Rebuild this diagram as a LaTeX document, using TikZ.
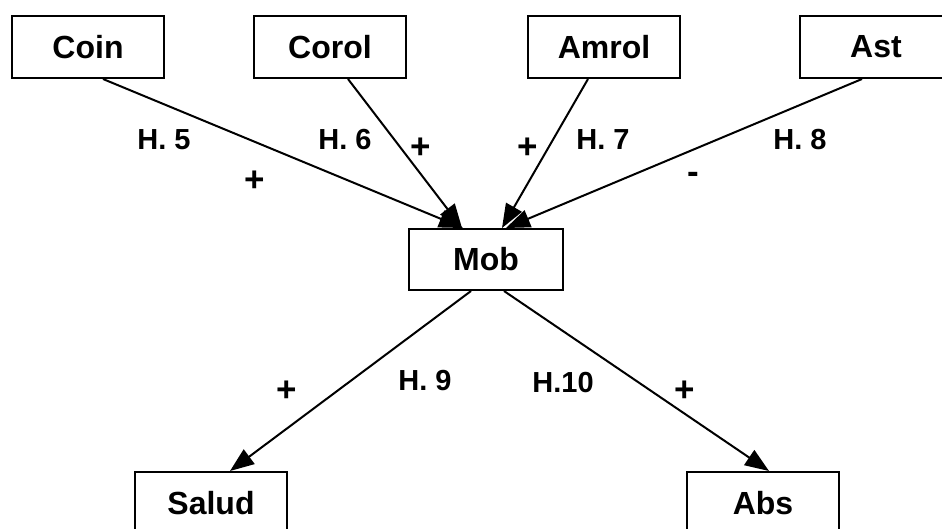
\documentclass[tikz,border=0pt]{standalone}
\usepackage{fontspec}
\setmainfont{Liberation Sans}
\usetikzlibrary{arrows.meta}
\begin{document}
\begin{tikzpicture}[x=1pt,y=-1pt,
  box/.style={draw,line width=2pt,minimum width=152pt,minimum height=62pt,inner sep=0pt,font=\fontsize{32}{36}\selectfont\bfseries},
  lab/.style={inner sep=0pt,font=\fontsize{29}{32}\selectfont\bfseries},
  sgn/.style={inner sep=0pt,font=\fontsize{35}{38}\selectfont\bfseries},
  conn/.style={line width=2pt,-{Triangle[length=24pt,width=18pt]}}]
\useasboundingbox (0,0) rectangle (942,528);
\clip (0,0) rectangle (942,528);
\node[box] (coin) at (88,47) {Coin};
\node[box] (corol) at (330,47) {Corol};
\node[box] (amrol) at (604,47) {Amrol};
\node[box] (ast) at (876,47) {Ast};
\node[box,minimum width=154pt,minimum height=61pt] (mob) at (486,259.5) {Mob};
\node[box] (salud) at (211,503) {Salud};
\node[box] (abs) at (763,503) {Abs};
\draw[conn] ([xshift=15pt]coin.south) -- ([xshift=-23pt]mob.north);
\draw[conn] ([xshift=18pt]corol.south) -- ([xshift=-24pt]mob.north);
\draw[conn] ([xshift=-16pt]amrol.south) -- ([xshift=16pt]mob.north);
\draw[conn] ([xshift=-14pt]ast.south) -- ([xshift=20pt]mob.north);
\draw[conn] ([xshift=-15pt]mob.south) -- ([xshift=19pt]salud.north);
\draw[conn] ([xshift=18pt]mob.south) -- ([xshift=6pt]abs.north);
\node[lab] (h5) at (164,140) {H. 5};
\node[sgn] (p5) at (255,181) {+};
\node[lab] (h6) at (345,140) {H. 6};
\node[sgn] (p6) at (421,148) {+};
\node[sgn] (p7) at (528,148) {+};
\node[lab] (h7) at (603,140) {H. 7};
\node[lab] (h8) at (800,140) {H. 8};
\node[sgn] (m8) at (693,178) {-};
\node[sgn] (p9) at (287,391) {+};
\node[lab] (h9) at (425,381) {H. 9};
\node[lab] (h10) at (563,383) {H.10};
\node[sgn] (p10) at (685,391) {+};
\end{tikzpicture}
\end{document}
